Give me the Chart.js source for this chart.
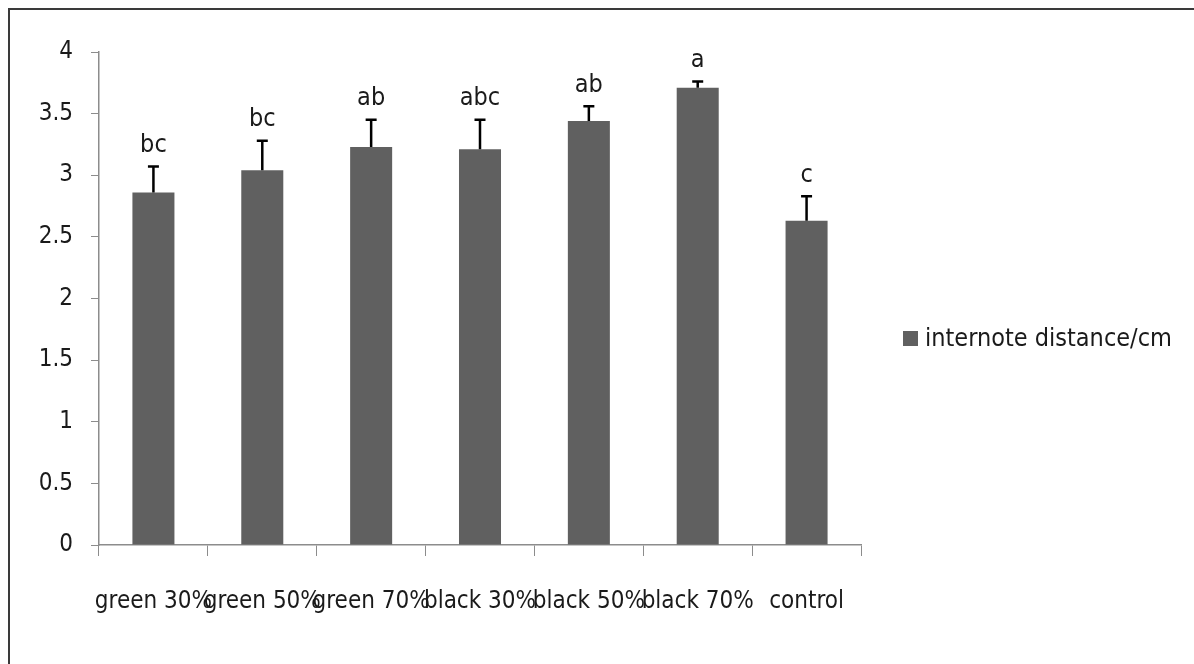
<!DOCTYPE html>
<html>
<head>
<meta charset="utf-8">
<script src="https://cdn.jsdelivr.net/npm/chart.js@4.4.1/dist/chart.umd.min.js"></script>
<style>
  html, body { margin: 0; padding: 0; background: #fff; }
  canvas { display: block; }
</style>
</head>
<body>
<canvas id="chart" width="1194" height="664"></canvas>
<script>
// data
const categories = ["green 30%", "green 50%", "green 70%", "black 30%", "black 50%", "black 70%", "control"];
const internodeMeans = [2.86, 3.04, 3.23, 3.21, 3.44, 3.71, 2.63];
const internodeErrors = [0.21, 0.24, 0.22, 0.24, 0.12, 0.05, 0.20];
const groupLetters = ["bc", "bc", "ab", "abc", "ab", "a", "c"];
const yTicks = [0, 0.5, 1, 1.5, 2, 2.5, 3, 3.5, 4];
const seriesLabel = "internote distance/cm";

const FONT = "'DejaVu Sans Condensed', 'Liberation Sans', sans-serif";
const FONT_SIZE = 24;
const BAR_COLOR = "#606060";
const TEXT_COLOR = "#1a1a1a";

// outer frame (only top/left edge visible in the original)
const framePlugin = {
  id: "frame",
  beforeDraw(chart) {
    const ctx = chart.ctx;
    ctx.save();
    ctx.fillStyle = "#fff";
    ctx.fillRect(0, 0, chart.width, chart.height);
    ctx.strokeStyle = "#3a3a3a";
    ctx.lineWidth = 2;
    ctx.strokeRect(9, 9, chart.width + 20, chart.height + 20);
    ctx.restore();
  }
};

// upward error bars + letters
const errorBarPlugin = {
  id: "errorBars",
  afterDatasetsDraw(chart) {
    const ctx = chart.ctx;
    const yScale = chart.scales.y;
    const meta = chart.getDatasetMeta(0);
    ctx.save();
    meta.data.forEach((bar, i) => {
      const top = yScale.getPixelForValue(internodeMeans[i] + internodeErrors[i]);
      ctx.strokeStyle = "#000";
      ctx.lineWidth = 2.5;
      ctx.beginPath();
      ctx.moveTo(bar.x, bar.y);
      ctx.lineTo(bar.x, top);
      ctx.moveTo(bar.x - 5.5, top);
      ctx.lineTo(bar.x + 5.5, top);
      ctx.stroke();

      ctx.fillStyle = TEXT_COLOR;
      ctx.font = (FONT_SIZE + 1) + "px " + FONT;
      ctx.textAlign = "center";
      ctx.textBaseline = "middle";
      ctx.fillText(groupLetters[i], bar.x, top - 21);
    });
    ctx.restore();
  }
};

// legend drawn at the right like the original
const legendPlugin = {
  id: "sideLegend",
  afterDraw(chart) {
    const ctx = chart.ctx;
    const ds = chart.data.datasets[0];
    ctx.save();
    ctx.fillStyle = ds.backgroundColor;
    ctx.fillRect(903, 331, 15, 15);
    ctx.fillStyle = TEXT_COLOR;
    ctx.font = (FONT_SIZE + 1) + "px " + FONT;
    ctx.textAlign = "left";
    ctx.textBaseline = "middle";
    ctx.fillText(ds.label, 925, 339);
    ctx.restore();
  }
};

new Chart(document.getElementById("chart"), {
  type: "bar",
  data: {
    labels: categories,
    datasets: [{
      label: seriesLabel,
      data: internodeMeans,
      backgroundColor: BAR_COLOR,
      categoryPercentage: 1,
      barPercentage: 0.386
    }]
  },
  options: {
    responsive: false,
    animation: false,
    layout: { padding: { left: 0, top: 52, right: 333, bottom: 19 } },
    plugins: {
      legend: { display: false },
      tooltip: { enabled: false }
    },
    scales: {
      x: {
        offset: true,
        grid: {
          offset: true,
          drawOnChartArea: false,
          drawTicks: true,
          tickLength: 11,
          color: "#8c8c8c",
          lineWidth: 1
        },
        border: { display: true, color: "#8c8c8c", width: 1.5 },
        ticks: {
          autoSkip: false,
          maxRotation: 0,
          minRotation: 0,
          padding: 31,
          color: TEXT_COLOR,
          font: { family: FONT, size: FONT_SIZE }
        },
        afterFit(scale) { scale.height = 100; }
      },
      y: {
        min: 0,
        max: 4,
        afterBuildTicks(scale) { scale.ticks = yTicks.map(v => ({ value: v })); },
        grid: {
          drawOnChartArea: false,
          drawTicks: true,
          tickLength: 8,
          color: "#8c8c8c"
        },
        border: { display: true, color: "#8c8c8c", width: 1.5 },
        ticks: {
          padding: 18,
          color: TEXT_COLOR,
          font: { family: FONT, size: FONT_SIZE },
          callback: v => String(v)
        },
        afterFit(scale) { scale.width = 99; }
      }
    }
  },
  plugins: [framePlugin, errorBarPlugin, legendPlugin]
});
</script>
</body>
</html>
